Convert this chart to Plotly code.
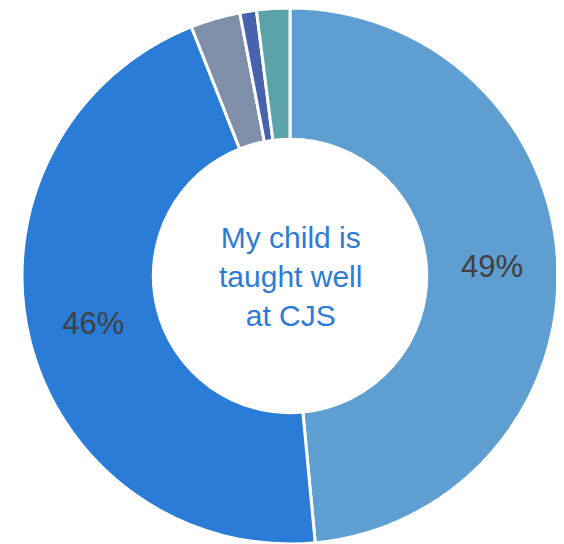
import plotly.graph_objects as go

labels = ["Strongly agree", "Agree", "Disagree", "Strongly disagree", "Don't know"]
values = [48.5, 45.5, 3, 1, 2]
shown = ["49%", "46%", "", "", ""]
colors = ["#5F9ED1", "#2A7CD6", "#7F8FA9", "#4763AD", "#5BA3A9"]
centre_text = "My child is<br>taught well<br>at CJS"

fig = go.Figure(
    go.Pie(
        labels=labels,
        values=values,
        text=shown,
        textinfo="text",
        textposition="inside",
        insidetextorientation="horizontal",
        hole=0.51,
        sort=False,
        direction="clockwise",
        rotation=0,
        marker=dict(colors=colors, line=dict(color="white", width=3)),
        textfont=dict(family="Liberation Sans, Arial", size=31, color="#404040"),
    )
)

fig.add_annotation(
    text=centre_text,
    x=0.5, y=0.5, xref="paper", yref="paper",
    showarrow=False,
    font=dict(family="Liberation Sans, Arial", size=30, color="#2E7BD6"),
)

# page body adds an 8px margin, so the pie is nudged up/left to compensate
fig.update_layout(
    width=564,
    height=544,
    showlegend=False,
    margin=dict(l=10, r=10, t=0, b=8),
    paper_bgcolor="white",
)

fig.write_html("out.html")
